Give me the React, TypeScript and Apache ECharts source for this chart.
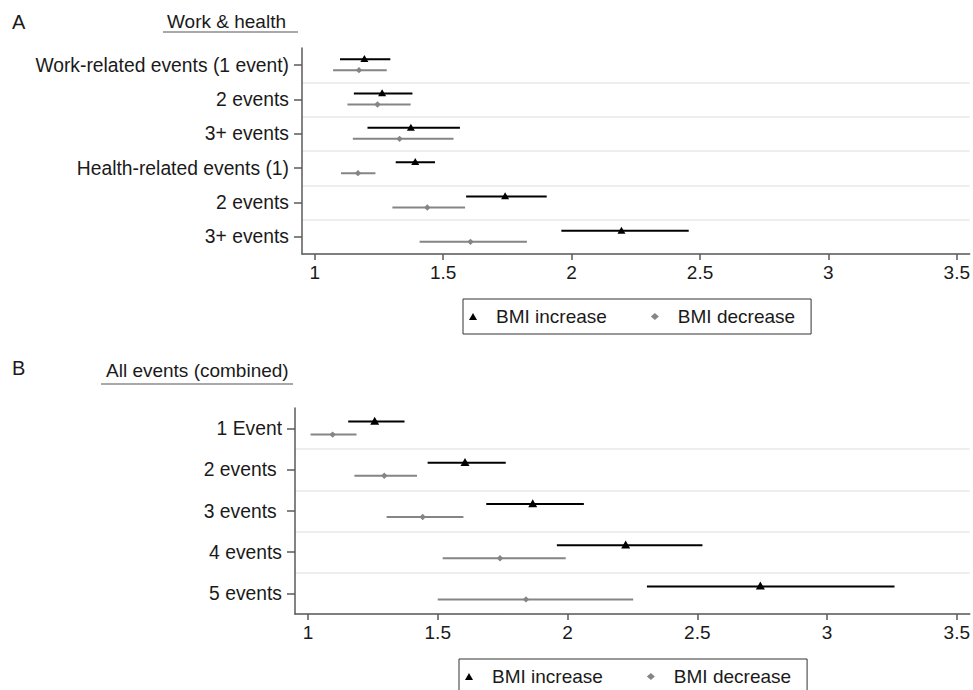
import React, { useEffect, useRef } from "react";
import * as echarts from "echarts";

const TOP_CATEGORIES = [
  "Work-related events (1 event)",
  "2 events",
  "3+ events",
  "Health-related events (1)",
  "2 events",
  "3+ events",
];
const TOP_INC_EST = [1.193, 1.262, 1.374, 1.391, 1.741, 2.194];
const TOP_INC_LO = [1.098, 1.152, 1.205, 1.315, 1.589, 1.96];
const TOP_INC_HI = [1.294, 1.38, 1.565, 1.468, 1.903, 2.456];
const TOP_DEC_EST = [1.172, 1.244, 1.33, 1.168, 1.438, 1.606];
const TOP_DEC_LO = [1.071, 1.127, 1.148, 1.102, 1.302, 1.408];
const TOP_DEC_HI = [1.28, 1.373, 1.54, 1.236, 1.585, 1.826];

const BOT_CATEGORIES = ["1 Event", "2 events ", "3 events ", "4 events", "5 events"];
const BOT_INC_EST = [1.257, 1.605, 1.866, 2.224, 2.743];
const BOT_INC_LO = [1.155, 1.461, 1.687, 1.959, 2.306];
const BOT_INC_HI = [1.372, 1.762, 2.063, 2.52, 3.26];
const BOT_DEC_EST = [1.095, 1.294, 1.442, 1.74, 1.84];
const BOT_DEC_LO = [1.01, 1.179, 1.303, 1.519, 1.5];
const BOT_DEC_HI = [1.187, 1.42, 1.599, 1.993, 2.253];

const X_TICKS = [1, 1.5, 2, 2.5, 3, 3.5];
const X_MIN = 0.95;
const X_MAX = 3.55;

const SERIES_INC = "BMI increase";
const SERIES_DEC = "BMI decrease";
const PANEL_A = "A";
const PANEL_B = "B";
const TITLE_A = "Work & health";
const TITLE_B = "All events (combined)";

const FONT = "'Liberation Sans', Arial, sans-serif";
const BLACK = "#000000";
const GRAY = "#858585";
const TEXT = "#1a1a1a";
const AXIS = "#5a5a5a";

function rows(lo: number[], est: number[], hi: number[]) {
  return est.map((e, i) => [lo[i], e, hi[i], i]);
}

function makeRender(dy: number, kind: "tri" | "dia", color: string, big: boolean) {
  return (params: any, api: any) => {
    const cat = api.value(3);
    const p0 = api.coord([api.value(0), cat]);
    const p1 = api.coord([api.value(2), cat]);
    const pc = api.coord([api.value(1), cat]);
    const y = p0[1] + dy;
    const children: any[] = [
      {
        type: "line",
        shape: { x1: p0[0], y1: y, x2: p1[0], y2: y },
        style: { stroke: color, lineWidth: 2 },
      },
    ];
    if (kind === "tri") {
      const hw = big ? 4.5 : 4;
      const h = big ? 8 : 7;
      children.push({
        type: "polygon",
        shape: {
          points: [
            [pc[0], y - h * 0.6],
            [pc[0] - hw, y + h * 0.4],
            [pc[0] + hw, y + h * 0.4],
          ],
        },
        style: { fill: color },
      });
    } else {
      const r = 3.2;
      children.push({
        type: "polygon",
        shape: {
          points: [
            [pc[0], y - r],
            [pc[0] + r, y],
            [pc[0], y + r],
            [pc[0] - r, y],
          ],
        },
        style: { fill: color },
      });
    }
    return { type: "group", children };
  };
}

function xAxisCfg(gridIndex: number) {
  return {
    type: "value",
    gridIndex,
    min: X_MIN,
    max: X_MAX,
    axisLine: { show: true, onZero: false, lineStyle: { color: AXIS, width: 1.5 } },
    axisTick: {
      show: true,
      length: 6,
      customValues: X_TICKS,
      lineStyle: { color: AXIS, width: 1.5 },
    },
    axisLabel: {
      customValues: X_TICKS,
      formatter: (v: number) => String(v),
      color: TEXT,
      fontSize: 19,
      fontFamily: FONT,
      margin: 9,
    },
    splitLine: { show: false },
  };
}

function yAxisCfg(gridIndex: number, data: string[]) {
  return {
    type: "category",
    gridIndex,
    data,
    inverse: true,
    boundaryGap: true,
    axisLine: { show: true, onZero: false, lineStyle: { color: AXIS, width: 1.5 } },
    axisTick: { show: true, alignWithLabel: true, length: 8, lineStyle: { color: AXIS, width: 1.5 } },
    axisLabel: {
      color: TEXT,
      fontSize: 19.3,
      fontFamily: FONT,
      margin: 13,
      interval: 0,
    },
    splitLine: {
      show: true,
      interval: (index: number) => index !== 0,
      lineStyle: { color: "#e9e9e9", width: 1.5 },
    },
  };
}

function legendCfg(left: number, top: number) {
  return {
    left,
    top,
    orient: "horizontal",
    borderColor: "#333",
    borderWidth: 1,
    padding: [8, 16, 8, 6],
    itemGap: 44,
    itemWidth: 8,
    itemHeight: 7,
    textStyle: { color: TEXT, fontSize: 19, fontFamily: FONT, padding: [0, 0, 0, 14] },
    data: [
      { name: SERIES_INC, icon: "triangle" },
      { name: SERIES_DEC, icon: "diamond", itemStyle: { color: GRAY } },
    ],
    selectedMode: false,
  };
}

export default function App() {
  const ref = useRef<HTMLDivElement>(null);
  useEffect(() => {
    if (!ref.current) return;
    const chart = echarts.init(ref.current, undefined, { renderer: "svg" });
    const option: any = {
      animation: false,
      backgroundColor: "#ffffff",
      textStyle: { fontFamily: FONT },
      grid: [
        { left: 302, top: 48, width: 672, height: 206 },
        { left: 295, top: 408, width: 679, height: 206 },
      ],
      xAxis: [xAxisCfg(0), xAxisCfg(1)],
      yAxis: [yAxisCfg(0, TOP_CATEGORIES), yAxisCfg(1, BOT_CATEGORIES)],
      legend: [legendCfg(463, 299), legendCfg(459, 659)],
      series: [
        {
          type: "custom",
          name: SERIES_INC,
          xAxisIndex: 0,
          yAxisIndex: 0,
          itemStyle: { color: BLACK },
          encode: { x: [0, 1, 2], y: 3 },
          renderItem: makeRender(-6, "tri", BLACK, false),
          data: rows(TOP_INC_LO, TOP_INC_EST, TOP_INC_HI),
        },
        {
          type: "custom",
          name: SERIES_DEC,
          xAxisIndex: 0,
          yAxisIndex: 0,
          itemStyle: { color: GRAY },
          encode: { x: [0, 1, 2], y: 3 },
          renderItem: makeRender(5, "dia", GRAY, false),
          data: rows(TOP_DEC_LO, TOP_DEC_EST, TOP_DEC_HI),
        },
        {
          type: "custom",
          name: SERIES_INC,
          xAxisIndex: 1,
          yAxisIndex: 1,
          itemStyle: { color: BLACK },
          encode: { x: [0, 1, 2], y: 3 },
          renderItem: makeRender(-7, "tri", BLACK, true),
          data: rows(BOT_INC_LO, BOT_INC_EST, BOT_INC_HI),
        },
        {
          type: "custom",
          name: SERIES_DEC,
          xAxisIndex: 1,
          yAxisIndex: 1,
          itemStyle: { color: GRAY },
          encode: { x: [0, 1, 2], y: 3 },
          renderItem: makeRender(6, "dia", GRAY, true),
          data: rows(BOT_DEC_LO, BOT_DEC_EST, BOT_DEC_HI),
        },
      ],
      graphic: [
        { type: "text", left: 12, top: 12, style: { text: PANEL_A, fontSize: 20, fontFamily: FONT, fill: TEXT } },
        { type: "text", left: 167, top: 12, style: { text: TITLE_A, fontSize: 19, fontFamily: FONT, fill: TEXT } },
        { type: "line", shape: { x1: 163, y1: 32, x2: 298, y2: 32 }, style: { stroke: "#555", lineWidth: 1.2 } },
        { type: "text", left: 12, top: 358, style: { text: PANEL_B, fontSize: 20, fontFamily: FONT, fill: TEXT } },
        { type: "text", left: 106, top: 361, style: { text: TITLE_B, fontSize: 19, fontFamily: FONT, fill: TEXT } },
        { type: "line", shape: { x1: 101, y1: 384, x2: 293, y2: 384 }, style: { stroke: "#555", lineWidth: 1.2 } },
      ],
    };
    chart.setOption(option);
    return () => chart.dispose();
  }, []);
  return (
    <div
      ref={ref}
      style={{ position: "fixed", left: 0, top: 0, width: 973, height: 690, background: "#fff" }}
    />
  );
}
